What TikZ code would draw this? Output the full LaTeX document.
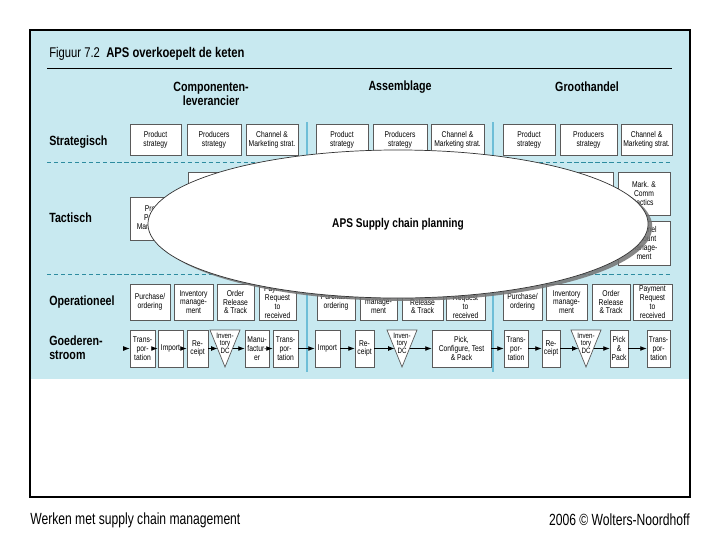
\documentclass[tikz,border=0pt]{standalone}
\usepackage{fontspec}
\setmainfont{Liberation Sans}
\newfontfamily\narrowsans[FakeStretch=0.8]{Liberation Sans}
\newfontfamily\footsans[FakeStretch=0.75]{Liberation Sans}
\usetikzlibrary{arrows.meta,shapes.geometric,shadows}
\definecolor{apsblue}{RGB}{200,233,240}
\definecolor{apsdash}{RGB}{45,140,160}
\definecolor{apssep}{RGB}{110,190,215}
\definecolor{boxline}{RGB}{90,90,90}
\tikzset{
  cellbox/.style={draw=boxline, fill=white, line width=0.5pt, inner sep=0pt, align=center,
                  font={\narrowsans\fontsize{6pt}{6.3pt}\selectfont}},
  dctxt/.style={inner sep=0pt, align=center, font={\narrowsans\fontsize{5.5pt}{5.4pt}\selectfont}},
  dcbox/.style={draw=boxline, fill=white, line width=0.5pt},
  rowlab/.style={anchor=west, inner sep=0pt, align=left,
                 font={\narrowsans\bfseries\fontsize{9.5pt}{10pt}\selectfont}},
  collab/.style={inner sep=0pt, align=center,
                 font={\narrowsans\bfseries\fontsize{9.5pt}{10pt}\selectfont}},
  ttl/.style={anchor=west, inner sep=0pt, font={\narrowsans\fontsize{10pt}{12pt}\selectfont}},
  lvl/.style={apsdash, line width=0.6pt, dash pattern=on 3pt off 2pt},
  sep/.style={apssep, line width=0.8pt},
  flow/.style={-{Latex[length=1.6mm,width=1.2mm]}, line width=0.5pt},
  apsell/.style={ellipse, draw=black!80, fill=white, line width=0.5pt, inner sep=0pt,
                 minimum width=12.5cm, minimum height=3.7cm,
                 drop shadow={shadow xshift=3pt, shadow yshift=-2pt, fill=black!55, opacity=0.85},
                 font={\narrowsans\bfseries\fontsize{9pt}{10pt}\selectfont}},
  foot/.style={inner sep=0pt, font={\footsans\fontsize{11.5pt}{13pt}\selectfont}},
}
% box from its corners: name, x1, y1, x2, y2, text
\newcommand{\cell}[6]{\node[cellbox, minimum width={(#4-#2)*0.025cm}, minimum height={(#5-#3)*0.025cm}]
  (#1) at ({(#2+#4)/2},{(#3+#5)/2}) {#6};}
% inventory triangle: name, left x, right x
\newcommand{\dc}[3]{\draw[dcbox] (#2,330) -- (#3,330) -- ({(#2+#3)/2},367) -- cycle;
  \node[dctxt] (#1) at ({(#2+#3)/2},343) {Inven-\\tory\\DC};
  \coordinate (#1w) at ({#2+(#3-#2)/4},348.5);
  \coordinate (#1e) at ({#3-(#3-#2)/4},348.5);}

\begin{document}
\begin{tikzpicture}[x=0.025cm, y=-0.025cm]
  \useasboundingbox (0,0) rectangle (720,540);
  \fill[apsblue] (30,30) rectangle (690,379);
  \draw[line width=0.9pt] (30,30) rectangle (690,497);

  \node[ttl] (title) at (49,54) {Figuur 7.2\hspace{0.45em}\textbf{APS overkoepelt de keten}};
  \draw[line width=0.6pt] (47,68) -- (672,68);

  \node[collab] (comp) at (211,94) {Componenten-\\leverancier};
  \node[collab] (asm) at (400,87) {Assemblage};
  \node[collab] (groot) at (587,87) {Groothandel};

  \node[rowlab] (strat) at (49,142) {Strategisch};
  \node[rowlab] (tact) at (49,218) {Tactisch};
  \node[rowlab] (oper) at (49,302) {Operationeel};
  \node[rowlab] (goed) at (49,348) {Goederen-\\stroom};

  \draw[lvl] (47,162) -- (672,162);
  \draw[lvl] (47,274) -- (672,274);
  \draw[sep] (307,122) -- (307,372);
  \draw[sep] (493,122) -- (493,372);

  % strategisch
  \cell{ps1}{130}{124}{181}{155}{Product\\strategy}
  \cell{pr1}{187}{124}{241}{155}{Producers\\strategy}
  \cell{cm1}{246}{124}{298}{155}{Channel \&\\Marketing strat.}
  \cell{ps2}{316}{124}{368}{155}{Product\\strategy}
  \cell{pr2}{373}{124}{427}{155}{Producers\\strategy}
  \cell{cm2}{431}{124}{484}{155}{Channel \&\\Marketing strat.}
  \cell{ps3}{503}{124}{555}{155}{Product\\strategy}
  \cell{pr3}{560}{124}{617}{155}{Producers\\strategy}
  \cell{cm3}{621}{124}{672}{155}{Channel \&\\Marketing strat.}

  % tactisch
  \cell{ppm1}{130}{197}{183}{240}{Product\\Portfolio\\Management}
  \cell{tb1}{188}{172}{241}{215}{}
  \cell{tb3}{560}{172}{613}{215}{}
  \cell{mc3}{618}{172}{670}{215}{Mark. \&\\Comm\\tactics}
  \cell{ca3}{618}{221}{670}{265}{Channel\\Account\\Manage-\\ment}

  % operationeel
  \cell{po1}{130}{284}{170}{320}{Purchase/\\ordering}
  \cell{im1}{174}{284}{213}{320}{Inventory\\manage-\\ment}
  \cell{or1}{217}{284}{254}{320}{Order\\Release\\\& Track}
  \cell{pay1}{259}{284}{296}{320}{Payment\\Request\\to\\received}
  \cell{po2}{317}{284}{355}{320}{Purchase/\\ordering}
  \cell{im2}{360}{284}{397}{320}{Inventory\\manage-\\ment}
  \cell{or2}{402}{284}{443}{320}{Order\\Release\\\& Track}
  \cell{pay2}{446}{284}{485}{320}{Payment\\Request\\to\\received}
  \cell{po3}{503}{284}{542}{320}{Purchase/\\ordering}
  \cell{im3}{546}{284}{587}{320}{Inventory\\manage-\\ment}
  \cell{or3}{592}{284}{630}{320}{Order\\Release\\\& Track}
  \cell{pay3}{633}{284}{672}{320}{Payment\\Request\\to\\received}

  \node[apsell] (aps) at (398,224) {APS Supply chain planning};

  % goederenstroom
  \cell{tr1}{130}{330}{155}{367}{Trans-\\por-\\tation}
  \cell{imp1}{158}{330}{183}{367}{Import}
  \cell{rec1}{187}{330}{208}{367}{Re-\\ceipt}
  \dc{dc1}{210}{240}
  \cell{mf1}{245}{330}{269}{367}{Manu-\\factur-\\er}
  \cell{tr2}{273}{330}{298}{367}{Trans-\\por-\\tation}
  \cell{imp2}{315}{330}{340}{367}{Import}
  \cell{rec2}{355}{330}{374}{367}{Re-\\ceipt}
  \dc{dc2}{387}{417}
  \cell{pick2}{432}{330}{491}{367}{Pick,\\Configure, Test\\\& Pack}
  \cell{tr3}{504}{330}{528}{367}{Trans-\\por-\\tation}
  \cell{rec3}{542}{330}{560}{367}{Re-\\ceipt}
  \dc{dc3}{571}{601}
  \cell{pp3}{610}{330}{628}{367}{Pick\\\&\\Pack}
  \cell{tr4}{647}{330}{670}{367}{Trans-\\por-\\tation}

  \coordinate (inflow) at (123,348.5);
  \draw[flow] (inflow) -- (tr1.west);
  \draw[flow] (tr1.east) -- (imp1.west);
  \draw[flow] (imp1.east) -- (rec1.west);
  \draw[flow] (rec1.east) -- (dc1w);
  \draw[flow] (dc1e) -- (mf1.west);
  \draw[flow] (mf1.east) -- (tr2.west);
  \draw[flow] (tr2.east) -- (imp2.west);
  \draw[flow] (imp2.east) -- (rec2.west);
  \draw[flow] (rec2.east) -- (dc2w);
  \draw[flow] (dc2e) -- (pick2.west);
  \draw[flow] (pick2.east) -- (tr3.west);
  \draw[flow] (tr3.east) -- (rec3.west);
  \draw[flow] (rec3.east) -- (dc3w);
  \draw[flow] (dc3e) -- (pp3.west);
  \draw[flow] (pp3.east) -- (tr4.west);

  \node[foot, anchor=west] (src) at (30,520) {Werken met supply chain management};
  \node[foot, anchor=east] (copy) at (690,520) {2006 © Wolters-Noordhoff};
\end{tikzpicture}
\end{document}
